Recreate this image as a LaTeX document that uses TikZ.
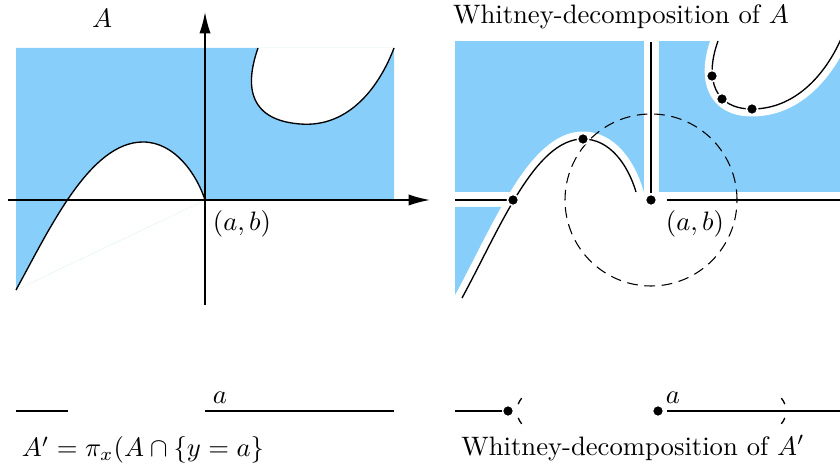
\documentclass[tikz,border=0pt]{standalone}
\usetikzlibrary{arrows.meta}
\definecolor{regblue}{RGB}{135,206,250}
\tikzset{
  dot/.style={circle, fill=black, draw=white, line width=0.6pt, inner sep=0pt, minimum size=4.2pt},
  axis/.style={line width=0.6pt, -{Latex[length=8pt,width=4.2pt]}},
  band/.style={white, line width=5.6pt, line cap=rect},
  curve/.style={line width=0.5pt},
}
\newcommand{\humpL}{(16,290) .. controls (50,228) and (90,142) .. (143,142) .. controls (175,142) and (197,175) .. (205,200)}
\newcommand{\loopL}{(258,48) .. controls (244,88) and (250,120) .. (300,124) .. controls (350,128) and (380,85) .. (394,48)}
\newcommand{\humpR}{(462,298) .. controls (500,228) and (535,139) .. (583,139) .. controls (610,139) and (628,165) .. (636,192)}
\newcommand{\loopR}{(718,41) .. controls (704,80) and (715,109) .. (752,109) .. controls (795,109) and (825,75) .. (841,39)}
\begin{document}
\begin{tikzpicture}[x=0.375pt, y=-0.375pt]
  \useasboundingbox (0,0) rectangle (840,468);

  \fill[regblue] (16,48) -- (394,48) -- (394,200) -- (205,200) -- (16,290) -- cycle;
  \fill[white] \humpL -- cycle;
  \fill[white] \loopL -- cycle;
  \draw[curve] \humpL;
  \draw[curve] \loopL;
  \draw[axis] (8,200) -- (430,200);
  \draw[axis] (205,305) -- (205,12);
  \node (nameA) at (102,18) {$A$};
  \node (ptL) at (242,224) {$(a,b)$};

  \fill[regblue] (455,41) rectangle (644,192);
  \fill[regblue] (659,41) rectangle (850,192);
  \fill[regblue] (455,207) -- (510,207) -- (462,298) -- (455,298) -- cycle;
  \fill[white] \humpR -- cycle;
  \fill[white] \loopR -- cycle;
  \draw[band] \humpR;
  \draw[band] \loopR;
  \draw[curve] \humpR;
  \draw[curve] \loopR;
  \coordinate (o) at (651,200);
  \draw[line width=0.6pt] (455,200) -- (513,200);
  \draw[line width=0.6pt] (667,200) -- (850,200);
  \draw[line width=0.6pt] (651,42) -- (651,193);
  \draw[dash pattern=on 4pt off 2.5pt] (o) circle (32.25pt);
  \foreach \p/\q in {cr/{513,200}, o/{651,200}, pk/{583,139}, c1/{712,76}, c2/{722,99}, c3/{752,109}}
    \node[dot] (d\p) at (\q) {};
  \node (titleA) at (621,17) {Whitney-decomposition of $A$};
  \node (ptR) at (695,224) {$(a,b)$};

  \draw[curve] (16,411) -- (68,411);
  \draw[curve] (205,411) -- (394,411);
  \node (aL) at (220,398) {$a$};
  \node (proj) at (143,450) {$A' = \pi_x(A \cap \{y=a\}$};

  \node[dot] (qL) at (508,411) {};
  \node[dot] (qA) at (658,411) {};
  \draw[curve] (455,411) -- (qL);
  \draw[curve] (667,411) -- (850,411);
  \coordinate (cl) at (537,411);
  \coordinate (cr) at (766,411);
  \draw[curve] (cl) ++(140:7.5pt) arc (140:160:7.5pt);
  \draw[curve] (cl) ++(200:7.5pt) arc (200:220:7.5pt);
  \draw[curve] (cr) ++(40:7.5pt) arc (40:20:7.5pt);
  \draw[curve] (cr) ++(-20:7.5pt) arc (-20:-40:7.5pt);
  \node (aR) at (673,398) {$a$};
  \node (titleA2) at (633,448) {Whitney-decomposition of $A'$};
\end{tikzpicture}
\end{document}
